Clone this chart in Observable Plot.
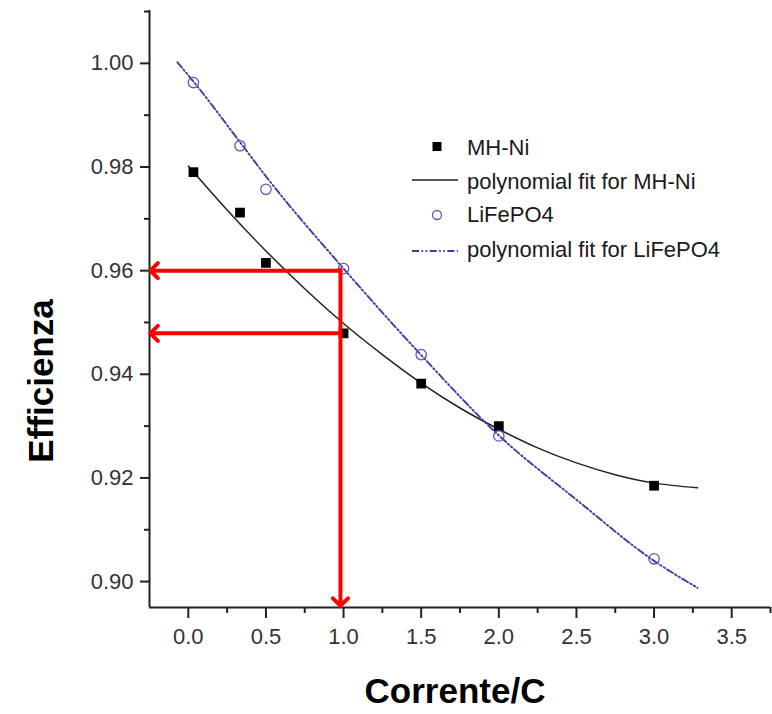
<!DOCTYPE html>
<html><head><meta charset="utf-8">
<script src="https://cdn.jsdelivr.net/npm/d3@7"></script>
<script src="https://cdn.jsdelivr.net/npm/@observablehq/plot@0.6"></script>
<style>
body{margin:0;background:#fff;}
#wrap{position:relative;width:772px;height:714px;}
#wrap svg{position:absolute;left:0;top:0;}
</style></head><body><div id="wrap"></div>
<script>
// Measured points
const currentX = [0.033, 0.333, 0.5, 1.0, 1.5, 2.0, 3.0];
const mhNiEff = [0.9790, 0.9712, 0.9615, 0.9479, 0.9382, 0.9300, 0.9185];
const lifepo4Eff = [0.9963, 0.9841, 0.9757, 0.9604, 0.9438, 0.9281, 0.9044];
// Polynomial fit curves
const mhFitX = [0, 0.25, 0.5, 0.75, 1.0, 1.25, 1.5, 1.75, 2.0, 2.25, 2.5, 2.75, 3.0, 3.28];
const mhFitY = [0.9802, 0.9717, 0.9638, 0.9565, 0.9498, 0.9438, 0.9383, 0.9335, 0.9294, 0.9258, 0.9229, 0.9206, 0.9190, 0.9181];
const liFitX = [-0.07, 0.033, 0.333, 0.5, 1.0, 1.5, 2.0, 2.5, 3.0, 3.28];
const liFitY = [1.0002, 0.9965, 0.9848, 0.9782, 0.9604, 0.9437, 0.9282, 0.9158, 0.9040, 0.8988];
// Ticks
const xTicks = [0, 0.5, 1.0, 1.5, 2.0, 2.5, 3.0, 3.5];
const xMinor = [0.25, 0.75, 1.25, 1.75, 2.25, 2.75, 3.25, 3.75];
const yTicks = [0.90, 0.92, 0.94, 0.96, 0.98, 1.00];
const yMinor = [0.91, 0.93, 0.95, 0.97, 0.99, 1.01];
// Red annotation arrows
const arrowX1 = [0.98, 0.98, 0.98];
const arrowY1 = [0.9602, 0.9600, 0.9479];
const arrowX2 = [0.98, -0.245, -0.245];
const arrowY2 = [0.8953, 0.9600, 0.9479];
const legendLabels = ["MH-Ni", "polynomial fit for MH-Ni", "LiFePO4", "polynomial fit for LiFePO4"];
const xTitle = "Corrente/C";
const yTitle = "Efficienza";

const pts = currentX.map((x, i) => ({x, mh: mhNiEff[i], li: lifepo4Eff[i]}));
const mhFit = mhFitX.map((x, i) => ({x, y: mhFitY[i]}));
const liFit = liFitX.map((x, i) => ({x, y: liFitY[i]}));
const arrows = arrowX1.map((x1, i) => ({x1, y1: arrowY1[i], x2: arrowX2[i], y2: arrowY2[i]}));

const BLUE = "#3d3da3";
const CIRC = "#5858bb";
const DASH = "7,2.5,1.6,2.5,1.6,2.5";

const chart = Plot.plot({
  width: 772, height: 714,
  marginLeft: 149, marginRight: 2, marginTop: 10, marginBottom: 107,
  style: {fontFamily: "'Liberation Sans', Arial, sans-serif", fontSize: "22px", background: "transparent", overflow: "visible"},
  x: {domain: [-0.25, 3.75]},
  y: {domain: [0.895, 1.0102]},
  marks: [
    Plot.axisX(xTicks, {tickSize: 11, tickPadding: 10, tickFormat: d => d.toFixed(1), fill: "#333", stroke: "#222", strokeWidth: 2, label: null, fontSize: 22}),
    Plot.axisX(xMinor, {tickSize: 6, tickFormat: () => "", stroke: "#222", strokeWidth: 2, label: null}),
    Plot.axisY(yTicks, {tickSize: 9, tickPadding: 7, tickFormat: d => d.toFixed(2), fill: "#333", stroke: "#222", strokeWidth: 2, label: null, fontSize: 22}),
    Plot.axisY(yMinor, {tickSize: 5, tickFormat: () => "", stroke: "#222", strokeWidth: 2, label: null}),
    Plot.ruleX([-0.25], {stroke: "#222", strokeWidth: 2}),
    Plot.ruleY([0.895], {stroke: "#222", strokeWidth: 2}),
    Plot.line(mhFit, {x: "x", y: "y", stroke: "#222", strokeWidth: 1.5, curve: "natural"}),
    Plot.line(liFit, {x: "x", y: "y", stroke: BLUE, strokeWidth: 1.9, strokeDasharray: DASH, curve: "monotone-x"}),
    Plot.dot(pts, {x: "x", y: "mh", symbol: "square", fill: "#000", r: 5.5}),
    Plot.dot(pts, {x: "x", y: "li", symbol: "circle", stroke: CIRC, strokeWidth: 1.3, fill: "none", r: 5.2}),
    Plot.arrow(arrows, {x1: "x1", y1: "y1", x2: "x2", y2: "y2", stroke: "#ff0000", strokeWidth: 4, headLength: 4, headAngle: 90})
  ]
});
const wrap = document.getElementById("wrap");
wrap.appendChild(chart);

// Overlay: legend and axis titles
const ov = d3.select(wrap).append("svg").attr("width", 772).attr("height", 714)
  .style("font-family", "'Liberation Sans', Arial, sans-serif");
const lg = ov.append("g");
const tx = 467, rowY = [155, 189, 222, 257];
lg.append("rect").attr("x", 432.5).attr("y", 142).attr("width", 9).attr("height", 9).attr("fill", "#000");
lg.append("line").attr("x1", 412).attr("x2", 458).attr("y1", 180).attr("y2", 180).attr("stroke", "#222").attr("stroke-width", 1.5);
lg.append("circle").attr("cx", 437).attr("cy", 215).attr("r", 4.5).attr("fill", "none").attr("stroke", CIRC).attr("stroke-width", 1.3);
lg.append("line").attr("x1", 412).attr("x2", 458).attr("y1", 251).attr("y2", 251).attr("stroke", BLUE).attr("stroke-width", 1.9).attr("stroke-dasharray", DASH);
legendLabels.forEach((t, i) => {
  lg.append("text").attr("x", tx).attr("y", rowY[i]).attr("font-size", 22).attr("fill", "#1a1a1a").text(t);
});
ov.append("text").attr("x", 455).attr("y", 703).attr("text-anchor", "middle")
  .attr("font-size", 35).attr("font-weight", "bold").attr("fill", "#000").text(xTitle);
ov.append("text").attr("transform", "translate(53,381) rotate(-90)").attr("text-anchor", "middle")
  .attr("font-size", 35).attr("font-weight", "bold").attr("fill", "#000").text(yTitle);
</script>
</body></html>
